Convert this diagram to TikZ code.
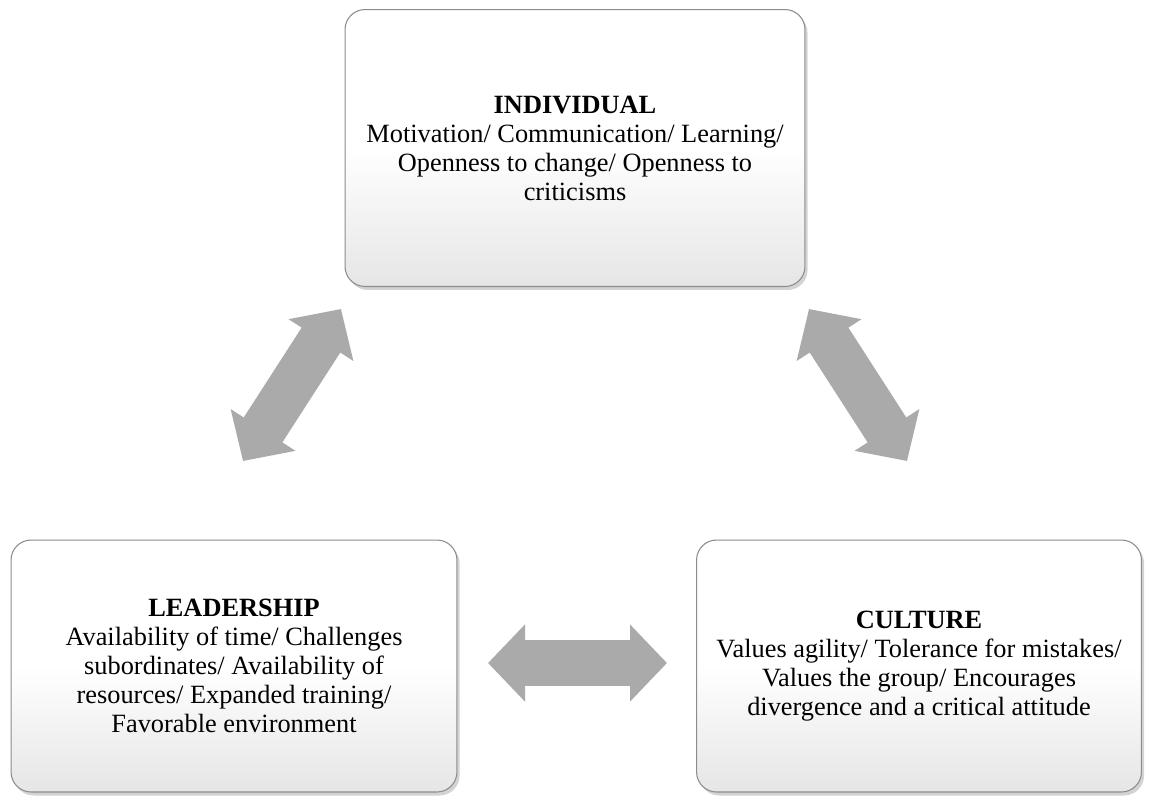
\documentclass[tikz,border=0pt]{standalone}
\usepackage{fontspec}
\setmainfont{Liberation Serif}
\usetikzlibrary{arrows.meta,shadows}
\definecolor{arrowgray}{RGB}{170,170,170}
\definecolor{edgegray}{RGB}{140,140,140}
\begin{document}
\begin{tikzpicture}[x=0.02cm,y=-0.02cm,
    box/.style={rectangle,rounded corners=0.4cm,draw=edgegray,line width=0.6pt,
      top color=white,bottom color=black!10,middle color=white,
      drop shadow={shadow xshift=1.5pt,shadow yshift=-2pt,opacity=0.35},
      align=center,inner sep=0pt,font=\fontsize{15}{16.5}\selectfont},
    link/.style={arrowgray,line width=0.92cm,
      {Triangle[length=0.74cm,width=1.5cm]}-{Triangle[length=0.74cm,width=1.5cm]}}]
    \useasboundingbox (0,0) rectangle (1149,799);
            \node [box,minimum width=9.2cm,minimum height=5.54cm] (I) at (575,148)
              {\textbf{INDIVIDUAL}\\Motivation/ Communication/ Learning/\\Openness to change/ Openness to\\criticisms};
            \node [box,minimum width=8.92cm,minimum height=5.04cm] (L) at (234,666)
              {\textbf{LEADERSHIP}\\Availability of time/ Challenges\\subordinates/ Availability of\\resources/ Expanded training/\\Favorable environment};
            \node [box,minimum width=8.9cm,minimum height=5.04cm] (C) at (919,666)
              {\textbf{CULTURE}\\Values agility/ Tolerance for mistakes/\\Values the group/ Encourages\\divergence and a critical attitude};
            \coordinate (IL) at (341,309);
            \coordinate (LI) at (243,461);
            \coordinate (IC) at (809,309);
            \coordinate (CI) at (907,461);
            \coordinate (LC) at (488,663);
            \coordinate (CL) at (667,663);
            \path [link] (IL) edge (LI);
            \path [link] (IC) edge (CI);
            \path [link] (LC) edge (CL);
        \end{tikzpicture}
\end{document}
